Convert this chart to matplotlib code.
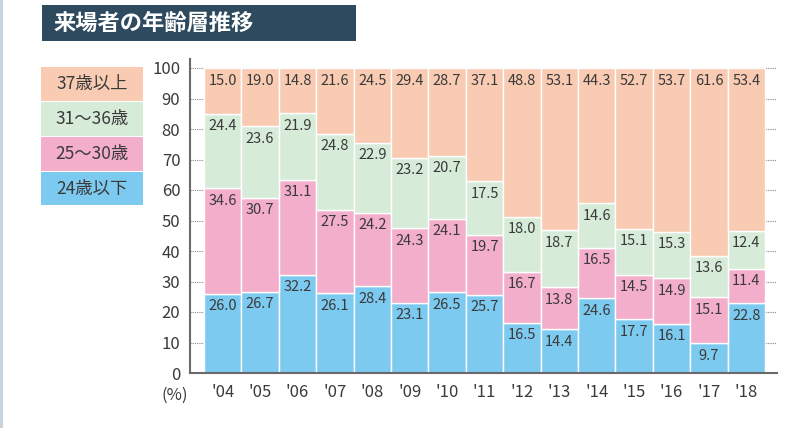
import matplotlib
matplotlib.use("Agg")
import matplotlib.pyplot as plt
from matplotlib.patches import Rectangle
import numpy as np

plt.rcParams['font.family'] = ['Noto Sans CJK JP', 'DejaVu Sans']

years = ["'04", "'05", "'06", "'07", "'08", "'09", "'10", "'11", "'12",
         "'13", "'14", "'15", "'16", "'17", "'18"]
age_24_under = [26.0, 26.7, 32.2, 26.1, 28.4, 23.1, 26.5, 25.7, 16.5, 14.4, 24.6, 17.7, 16.1, 9.7, 22.8]
age_25_30 = [34.6, 30.7, 31.1, 27.5, 24.2, 24.3, 24.1, 19.7, 16.7, 13.8, 16.5, 14.5, 14.9, 15.1, 11.4]
age_31_36 = [24.4, 23.6, 21.9, 24.8, 22.9, 23.2, 20.7, 17.5, 18.0, 18.7, 14.6, 15.1, 15.3, 13.6, 12.4]
age_37_over = [15.0, 19.0, 14.8, 21.6, 24.5, 29.4, 28.7, 37.1, 48.8, 53.1, 44.3, 52.7, 53.7, 61.6, 53.4]
series_names = ["24歳以下", "25〜30歳", "31〜36歳", "37歳以上"]
yticks = [0, 10, 20, 30, 40, 50, 60, 70, 80, 90, 100]

colors = ['#7dcaf0', '#f2aecb', '#d6ecd9', '#f8cbb2']
text_color = '#3a3a3a'

W, H = 811, 428
fig = plt.figure(figsize=(W / 100, H / 100), dpi=100)

# axes placement in pixels
ax_l, ax_r, ax_t, ax_b = 190, 777, 59, 373
ax = fig.add_axes([ax_l / W, (H - ax_b) / H, (ax_r - ax_l) / W, (ax_b - ax_t) / H])

x = np.arange(len(years))
series = [age_24_under, age_25_30, age_31_36, age_37_over]
bottom = np.zeros(len(years))
for vals, c in zip(series, colors):
    vals = np.array(vals)
    ax.bar(x, vals, bottom=bottom, width=1.0, color=c, edgecolor='white',
           linewidth=1.0, zorder=3)
    for xi, b, v in zip(x, bottom, vals):
        ax.annotate(f"{v:.1f}", (xi, b + v), xytext=(0, -4), textcoords='offset points',
                    ha='center', va='top', fontsize=10.5, color=text_color, zorder=4)
    bottom += vals

ax.set_xlim(-0.874, 14.82)
ax.set_ylim(0, 100 * (ax_b - ax_t) / (ax_b - 68))
ax.set_yticks(yticks)
ax.set_yticklabels([str(v) for v in yticks], fontsize=12, color=text_color)
ax.set_xticks(x)
ax.set_xticklabels(years, fontsize=12, color=text_color)
ax.tick_params(axis='both', length=0, pad=7)
ax.tick_params(axis='x', pad=8)
for yv in yticks[1:]:
    ax.axhline(yv, color='#888888', linestyle=(0, (1, 1)), linewidth=0.8, zorder=1)
for s in ['top', 'right']:
    ax.spines[s].set_visible(False)
for s in ['left', 'bottom']:
    ax.spines[s].set_color('#6a6a6a')
    ax.spines[s].set_linewidth(1.5)
    ax.spines[s].set_zorder(5)

fig.text(175 / W, 1 - 395 / H, "(%)", ha='center', va='center', fontsize=12, color=text_color)

# title box
fig.patches.append(Rectangle((42 / W, 1 - 41 / H), (356 - 42) / W, (41 - 5) / H,
                             transform=fig.transFigure, facecolor='#2d4a5e', edgecolor='none'))
fig.text(53 / W, 1 - 23 / H, "来場者の年齢層推移", ha='left', va='center',
         fontsize=16, fontweight='bold', color='white')

# legend boxes
legend_boxes = [(67, 101), (102, 136), (137, 171), (172, 205)]
for (y0, y1), name, c in zip(legend_boxes, series_names[::-1], colors[::-1]):
    fig.patches.append(Rectangle((41 / W, 1 - y1 / H), (143 - 41) / W, (y1 - y0) / H,
                                 transform=fig.transFigure, facecolor=c, edgecolor='none'))
    fig.text(92 / W, 1 - (y0 + y1) / 2 / H, name, ha='center', va='center',
             fontsize=12.5, color=text_color)

# faint page edge at left
fig.patches.append(Rectangle((0, 0), 2.5 / W, 1, transform=fig.transFigure,
                             facecolor='#c9d3dc', edgecolor='none'))

fig.savefig('out.png', dpi=100)
